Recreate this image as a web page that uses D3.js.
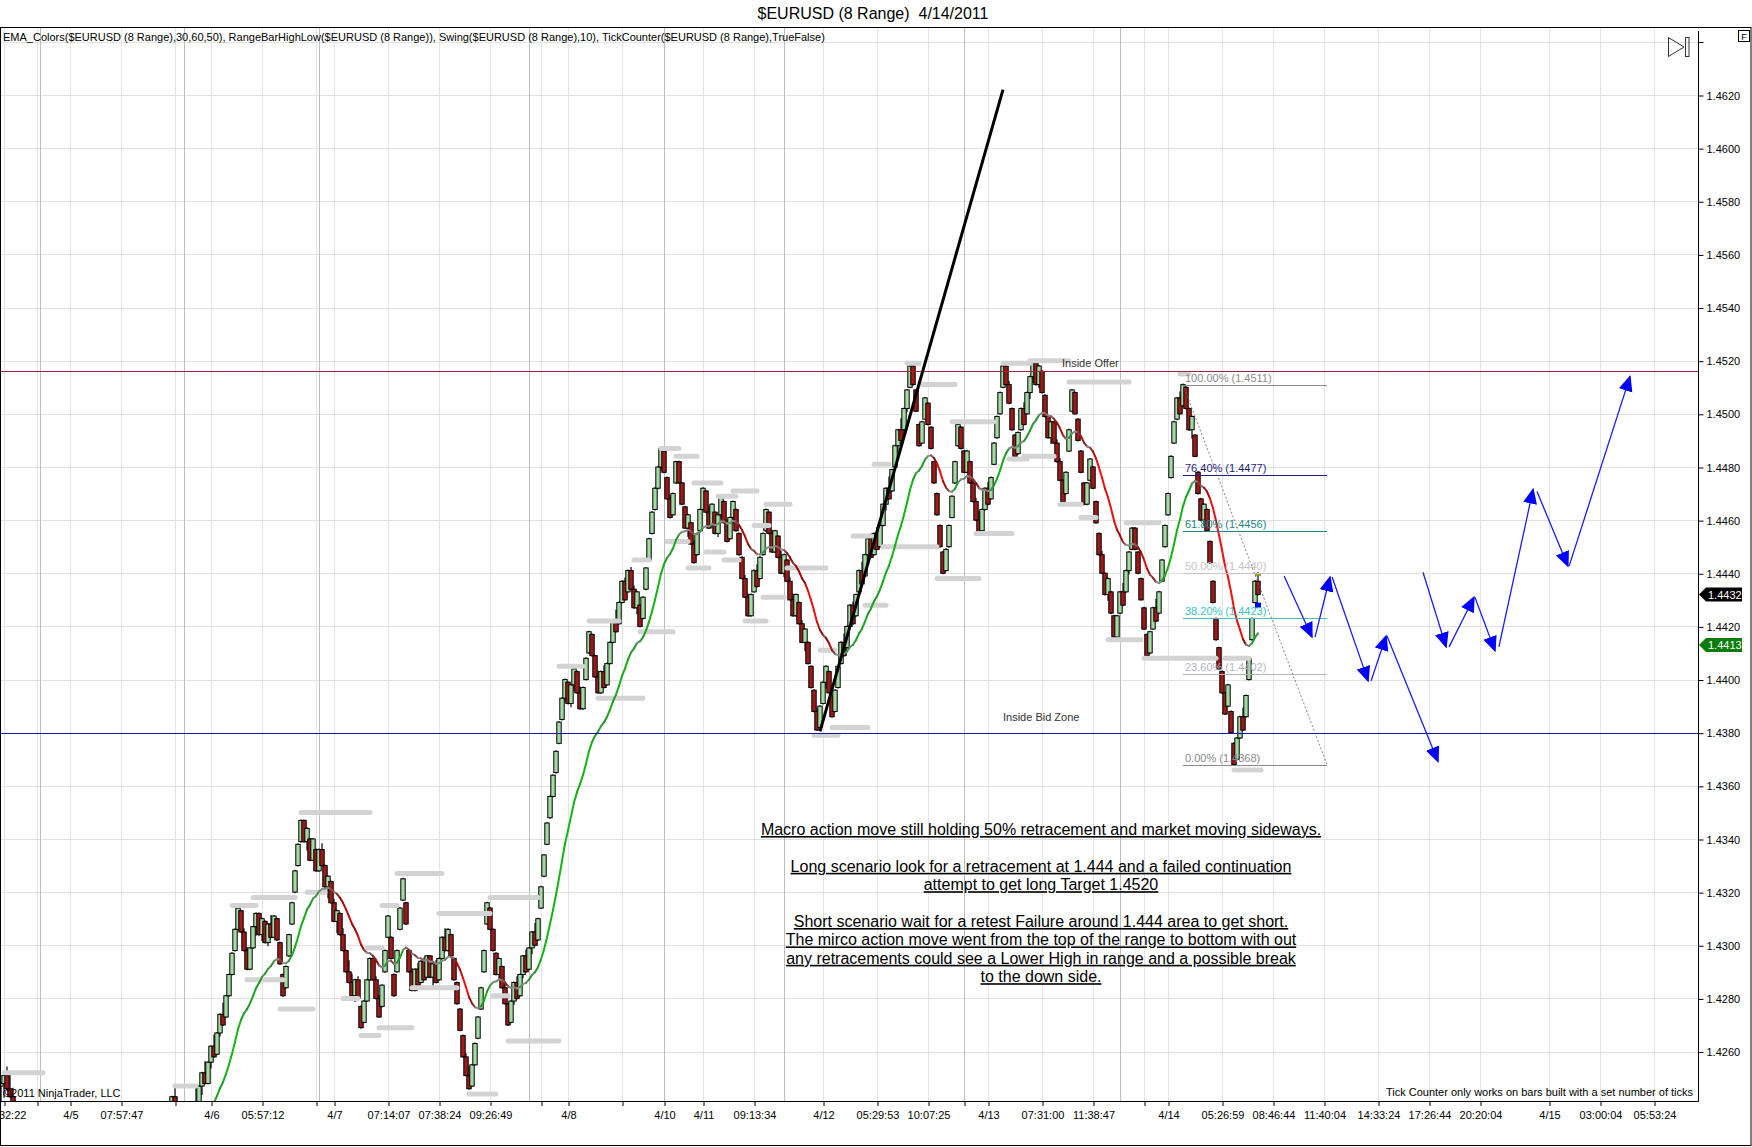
<!DOCTYPE html>
<html>
<head>
<meta charset="utf-8">
<script src="https://cdn.jsdelivr.net/npm/d3@7"></script>
<style>
  body { margin: 0; background: #fff; }
  svg text { font-family: "Liberation Sans", Arial, sans-serif; }
</style>
</head>
<body>
<svg id="chart" width="1752" height="1147"></svg>
<script>
// range bar closes, in pips above 1.4000 (one per bar)
const BASE = 1.4, PIP = 0.0001, RANGE = 8;
const closePips = [
  248, 251, 246, 243, 238,
  232, 228, 224, 220, 216, 219, 214, 210, 212, 208,
  205, 209, 212, 208, 204, 207, 211, 214, 210, 206,
  203, 207, 211, 215, 212, 208, 211, 215, 218, 214,
  210, 213, 217, 214, 210, 206, 209, 213, 216, 220,
  217, 213, 216, 220, 224, 221, 225, 228, 224, 227,
  230, 236, 243,
  238, 231, 227, 232, 228, 234, 241, 238, 247,
  252, 248, 256, 262, 258, 267, 274, 270, 281, 289, 297, 306, 314,
  305, 298, 291, 299, 307,
  312, 304, 310, 301, 308, 303, 311, 302,
  293, 281,
  292, 304, 316, 328, 338, 347,
  339, 344, 332, 340, 328, 336, 330,
  322, 326, 316, 309, 313, 304, 298,
  290, 286, 281, 287, 280,
  269,
  279, 287, 295, 287, 280, 273,
  285, 298, 311, 295, 281, 298, 314, 325, 308, 290, 283,
  291, 285, 294, 287, 296, 288, 293, 286,
  295, 303, 298, 306,
  296, 287, 278, 268,
  258, 251, 246,
  255, 263, 273,
  284, 298, 316,
  306, 298, 289, 295, 284, 278, 270,
  279, 286, 280, 289, 296, 290, 299, 305, 300,
  310, 322, 334, 346, 356, 364, 373, 384,
  393, 400, 391, 398, 404, 395, 389, 397,
  408, 418,
  409, 401, 395, 403, 397, 406,
  414, 422, 418, 429,
  437, 430, 441, 434,
  427, 433, 420,
  431, 442, 453, 463,
  472, 480, 487,
  478, 468, 461, 470,
  482,
  474, 466, 457, 462, 451, 444,
  455, 464, 472,
  463, 457, 466, 455, 462, 469, 459, 452, 461, 467, 456,
  447, 438, 431, 424,
  432, 441, 435, 446, 455,
  464,
  455, 448, 456, 446, 440, 447, 437,
  430, 424, 432, 421, 414, 419, 406,
  397, 388, 381,
  390, 399, 405, 395, 386, 396,
  405, 414, 409, 420, 428,
  421, 432, 441, 436, 447, 453,
  446, 455, 449, 458,
  466, 472, 468, 479,
  488, 494, 490, 502,
  509, 518, 511,
  501, 488, 497, 506, 496, 487, 474, 462, 450, 440,
  449, 458, 469, 482, 496, 487,
  478, 486, 474,
  467, 460, 455,
  464, 472, 466, 476, 489,
  499, 508, 518, 511, 504,
  494, 484, 493, 502, 496, 508,
  514, 520, 511, 518,
  508, 499, 491,
  497, 489,
  482, 475, 467,
  478, 494, 509,
  500, 490,
  478, 466, 474, 483, 472,
  459, 447,
  440, 432, 438, 425, 416,
  424, 433, 428, 441,
  448, 457,
  449, 440, 430, 419, 409,
  418, 427, 422, 433, 445,
  458, 470, 484, 497,
  506, 500, 511,
  502, 494, 499,
  484, 470,
  460, 466, 456,
  444, 429, 415,
  404, 395, 387, 398, 380, 368,
  378, 386, 381, 394, 408, 423,
  437, 432
];

// time axis: bar slot of each tick and its label
const tickSlots = [1, 12, 23, 40, 58, 70, 87, 105, 111, 129, 146, 163, 180, 189, 207, 221, 234, 251,
  274, 292, 309, 321, 329, 347, 364, 381, 389, 407, 424, 441, 459, 476, 493, 516, 533, 551];
const tickLabels = ["07:32:22", "", "4/5", "07:57:47", "", "4/6", "05:57:12", "", "4/7", "07:14:07",
  "07:38:24", "09:26:49", "", "4/8", "", "4/10", "4/11", "09:13:34", "4/12", "05:29:53", "10:07:25", "",
  "4/13", "07:31:00", "11:38:47", "", "4/14", "05:26:59", "08:46:44", "11:40:04", "14:33:24", "17:26:44",
  "20:20:04", "4/15", "03:00:04", "05:53:24"];
const sessionSlots = [13, 61, 106, 176, 221, 261, 321, 373];

const priceTicks = [1.4260, 1.4280, 1.4300, 1.4320, 1.4340, 1.4360, 1.4380, 1.4400, 1.4420, 1.4440,
  1.4460, 1.4480, 1.4500, 1.4520, 1.4540, 1.4560, 1.4580, 1.4600, 1.4620];

// swing lines: first bar, last bar, level in pips
const swingFrom = [1, 58, 77, 84, 82, 93, 100, 102, 114, 120, 122, 126, 127, 132, 137, 146, 156, 163, 164, 169,
  186, 196, 199, 211, 213, 220, 222, 225, 229, 231, 235, 239, 241, 244, 248, 251, 254, 255, 262, 271, 273, 277,
  284, 288, 291, 294, 302, 307, 312, 317, 325, 334, 336, 341, 343, 353, 356, 360, 369, 375, 381, 408, 393, 411];
const swingTo = [14, 65, 85, 98, 94, 104, 123, 108, 119, 126, 127, 137, 132, 147, 152, 163, 165, 179, 169, 186,
  194, 206, 214, 216, 224, 226, 229, 232, 236, 240, 241, 245, 246, 252, 255, 256, 261, 263, 275, 279, 278, 289,
  290, 295, 296, 312, 306, 318, 326, 331, 337, 343, 342, 351, 356, 360, 376, 365, 380, 386, 405, 416, 396, 420];
const swingPips = [252, 247, 315, 318, 287, 276, 350, 320, 280, 266, 299, 269, 315, 327, 284, 312, 244, 318, 281, 264,
  405, 422, 393, 445, 418, 487, 452, 484, 442, 474, 448, 469, 445, 471, 422, 458, 431, 466, 442, 379, 411, 382,
  454, 428, 481, 450, 519, 511, 438, 497, 455, 519, 483, 484, 520, 466, 512, 461, 415, 459, 408, 408, 515, 366];

// fibonacci retracement drawn from the 4/14 high to the low
const fibNames = ["100.00%", "76.40%", "61.80%", "50.00%", "38.20%", "23.60%", "0.00%"];
const fibPrices = [1.4511, 1.4477, 1.4456, 1.4440, 1.4423, 1.4402, 1.4368];
const fibSlots = [394, 442];

// hand drawn lines
const offerPrice = 1.4516, bidPrice = 1.4380;
const trendSlots = [273, 334], trendPrices = [1.43805, 1.46220];
const arrowSlotA = [427.7, 438, 443.7, 456.7, 462, 474, 482.7, 491.3, 499.3, 512, 522.7];
const arrowPipA = [439, 416, 438.6, 399.5, 416.4, 440.4, 412.3, 431, 412.3, 470.8, 442.7];
const arrowSlotB = [437, 443, 455.7, 461.7, 479, 481.7, 491, 498, 510.7, 522.3, 543];
const arrowPipB = [416, 438.6, 399.5, 416.4, 369.2, 412.3, 431, 410.8, 471.6, 442.7, 514];

const lastPrice = 1.4432, emaPrice = 1.4413;
const barMarkPips = [439.5, 428];
const emaPeriod = 20, emaSeed = 222;

const noteLines = [
  "Macro action move still holding 50% retracement and market moving sideways.",
  "",
  "Long scenario look for a retracement at 1.444 and a failed continuation",
  "attempt to get long Target 1.4520",
  "",
  "Short scenario wait for a retest Failure around 1.444 area to get short.",
  "The mirco action move went from the top of the range to bottom with out",
  "any retracements could see a Lower High in range and a possible break",
  "to the down side."
];

/* LAYOUT */
const plot = { left: 0, right: 1698, top: 27, bottom: 1101 };
const svg = d3.select("#chart");

const x = d3.scaleLinear().domain([0, 565]).range([1, 1696]);
const y = d3.scaleLinear().domain([1.4380, 1.4520]).range([732.7, 360.7]);
const px = p => BASE + p * PIP;
const crisp = v => Math.round(v) + 0.5;

const defs = svg.append("defs");
defs.append("clipPath").attr("id", "plotClip")
  .append("rect")
  .attr("x", plot.left).attr("y", plot.top)
  .attr("width", plot.right - plot.left).attr("height", plot.bottom - plot.top);

defs.append("marker")
  .attr("id", "arrowHead")
  .attr("viewBox", "0 0 10 10")
  .attr("refX", 9).attr("refY", 5)
  .attr("markerUnits", "userSpaceOnUse")
  .attr("markerWidth", 16).attr("markerHeight", 16)
  .attr("orient", "auto")
  .append("path")
  .attr("d", "M0,0.6 L10,5 L0,9.4 Z")
  .attr("fill", "#0000ff");

// title
svg.append("text")
  .attr("x", 873).attr("y", 19)
  .attr("text-anchor", "middle")
  .attr("font-size", 16)
  .style("white-space", "pre")
  .text("$EURUSD (8 Range)  4/14/2011");

/* GRID */
const plotG = svg.append("g").attr("clip-path", "url(#plotClip)");

plotG.selectAll(".hgrid")
  .data(priceTicks.concat([1.4640]))
  .join("line")
  .attr("x1", plot.left).attr("x2", plot.right)
  .attr("y1", d => crisp(y(d))).attr("y2", d => crisp(y(d)))
  .attr("stroke", "#e2e2e2");

plotG.selectAll(".vgrid")
  .data(tickSlots)
  .join("line")
  .attr("x1", d => crisp(x(d))).attr("x2", d => crisp(x(d)))
  .attr("y1", plot.top).attr("y2", plot.bottom)
  .attr("stroke", "#e4e4e4");

plotG.selectAll(".sgrid")
  .data(sessionSlots)
  .join("line")
  .attr("x1", d => crisp(x(d))).attr("x2", d => crisp(x(d)))
  .attr("y1", plot.top).attr("y2", plot.bottom)
  .attr("stroke", "#bdbdbd");

svg.append("text")
  .attr("x", 3).attr("y", 41)
  .attr("font-size", 11)
  .text("EMA_Colors($EURUSD (8 Range),30,60,50), RangeBarHighLow($EURUSD (8 Range)), Swing($EURUSD (8 Range),10), TickCounter($EURUSD (8 Range),TrueFalse)");

/* BARS */
const bars = closePips.map((c, i) => {
  const prev = i ? closePips[i - 1] : c - 1;
  const up = c >= prev;
  const h = up ? c : c + RANGE;
  const l = up ? c - RANGE : c;
  const o = Math.max(l, Math.min(h, prev));
  return { i, o, h, l, c, up };
});

plotG.selectAll(".wick")
  .data(bars)
  .join("line")
  .attr("x1", d => x(d.i)).attr("x2", d => x(d.i))
  .attr("y1", d => y(px(d.h)) - 1).attr("y2", d => y(px(d.l)) + 1)
  .attr("stroke", "#000").attr("stroke-width", 1.2);

plotG.selectAll(".body")
  .data(bars)
  .join("rect")
  .attr("x", d => x(d.i) - 2.2)
  .attr("width", 4.4)
  .attr("y", d => y(px(Math.max(d.o, d.c))))
  .attr("height", d => Math.max(1, Math.abs(y(px(d.o)) - y(px(d.c)))))
  .attr("fill", d => d.up ? "#a3dba3" : "#9e1a1a")
  .attr("stroke", "#000").attr("stroke-width", 1);

// swing high / low levels
plotG.selectAll(".swing")
  .data(swingPips)
  .join("line")
  .attr("x1", (d, i) => x(swingFrom[i])).attr("x2", (d, i) => x(swingTo[i]))
  .attr("y1", d => y(px(d))).attr("y2", d => y(px(d)))
  .attr("stroke", "#d3d3d3").attr("stroke-width", 5)
  .attr("stroke-linecap", "round");

// current bar high/low projection marks
const last = bars[bars.length - 1];
plotG.append("rect")
  .attr("x", x(last.i) - 3).attr("y", y(px(barMarkPips[0])) - 1.5)
  .attr("width", 6).attr("height", 3).attr("fill", "#9c9a32");
plotG.append("rect")
  .attr("x", x(last.i) - 3).attr("y", y(px(barMarkPips[1])) - 2.5)
  .attr("width", 6).attr("height", 5).attr("fill", "#0000ff");

/* EMA, coloured by slope */
const ema = [];
let e = emaSeed;
closePips.forEach(c => { e = e + (c - e) * 2 / (emaPeriod + 1); ema.push(e); });

const slopeColor = d3.scaleLinear()
  .domain([-3.6, -1.9, -0.25, 0.25, 1.9, 3.6])
  .range(["#ee1010", "#870a0a", "#8e8e8e", "#8e8e8e", "#23962a", "#14b414"])
  .clamp(true);

plotG.selectAll(".ema")
  .data(ema.slice(1))
  .join("line")
  .attr("x1", (d, i) => x(i)).attr("x2", (d, i) => x(i + 1))
  .attr("y1", (d, i) => y(px(ema[i]))).attr("y2", d => y(px(d)))
  .attr("stroke", (d, i) => slopeColor(d - ema[i]))
  .attr("stroke-width", 2)
  .attr("stroke-linecap", "round");

/* HORIZONTAL ZONES */
plotG.append("line")
  .attr("x1", plot.left).attr("x2", plot.right)
  .attr("y1", crisp(y(offerPrice))).attr("y2", crisp(y(offerPrice)))
  .attr("stroke", "#a3213f");
plotG.append("line")
  .attr("x1", plot.left).attr("x2", plot.right)
  .attr("y1", crisp(y(bidPrice))).attr("y2", crisp(y(bidPrice)))
  .attr("stroke", "#1414a8");

plotG.append("text")
  .attr("x", 1062).attr("y", 367)
  .attr("font-size", 11).attr("fill", "#333")
  .text("Inside Offer");
plotG.append("text")
  .attr("x", 1003).attr("y", 721)
  .attr("font-size", 11).attr("fill", "#333")
  .text("Inside Bid Zone");

/* FIBONACCI */
const fibColors = ["#8a8a8a", "#1c1c7a", "#1d8585", "#c4c4c4", "#3cc4c4", "#b4b4c0", "#8a8a8a"];
const fibG = plotG.append("g");
fibG.selectAll("line")
  .data(fibPrices)
  .join("line")
  .attr("x1", x(fibSlots[0])).attr("x2", x(fibSlots[1]))
  .attr("y1", d => crisp(y(d))).attr("y2", d => crisp(y(d)))
  .attr("stroke", (d, i) => fibColors[i]);
fibG.selectAll("text")
  .data(fibPrices)
  .join("text")
  .attr("x", x(fibSlots[0]) + 2)
  .attr("y", d => y(d) - 3)
  .attr("font-size", 11)
  .attr("fill", (d, i) => fibColors[i])
  .text((d, i) => `${fibNames[i]} (${d.toFixed(4)})`);
fibG.append("line")
  .attr("x1", x(fibSlots[0])).attr("y1", y(fibPrices[0]))
  .attr("x2", x(fibSlots[1])).attr("y2", y(fibPrices[fibPrices.length - 1]))
  .attr("stroke", "#666").attr("stroke-width", 0.8)
  .attr("stroke-dasharray", "2,2");

/* DRAWINGS */
plotG.append("line")
  .attr("x1", x(trendSlots[0])).attr("y1", y(trendPrices[0]))
  .attr("x2", x(trendSlots[1])).attr("y2", y(trendPrices[1]))
  .attr("stroke", "#000").attr("stroke-width", 3);

plotG.selectAll(".arrow")
  .data(arrowSlotA)
  .join("line")
  .attr("x1", d => x(d)).attr("y1", (d, i) => y(px(arrowPipA[i])))
  .attr("x2", (d, i) => x(arrowSlotB[i])).attr("y2", (d, i) => y(px(arrowPipB[i])))
  .attr("stroke", "#1c1cf0").attr("stroke-width", 1.3)
  .attr("marker-end", "url(#arrowHead)");

// annotation
svg.append("g").selectAll("text")
  .data(noteLines)
  .join("text")
  .attr("x", 1041)
  .attr("y", (d, i) => 835 + i * 18.4)
  .attr("text-anchor", "middle")
  .attr("font-size", 16)
  .style("text-decoration", "underline")
  .text(d => d);

plotG.append("text")
  .attr("x", 3).attr("y", 1097)
  .attr("font-size", 11)
  .text("©2011 NinjaTrader, LLC");
plotG.append("text")
  .attr("x", 1693).attr("y", 1096)
  .attr("text-anchor", "end")
  .attr("font-size", 11)
  .text("Tick Counter only works on bars built with a set number of ticks");

/* AXES */
const xAxis = d3.axisBottom(x)
  .tickValues(tickSlots)
  .tickFormat((d, i) => tickLabels[i])
  .tickSize(5).tickSizeOuter(0);

const xg = svg.append("g")
  .attr("transform", `translate(0.5,${plot.bottom})`)
  .call(xAxis);
xg.select(".domain").remove();
xg.selectAll("text").attr("font-size", 11).attr("font-family", "Liberation Sans, Arial").attr("fill", "#000").attr("dy", "0.9em");
xg.selectAll("line").attr("stroke", "#000");

const yAxis = d3.axisRight(y)
  .tickValues(priceTicks)
  .tickFormat(d3.format(".4f"))
  .tickSize(5).tickSizeOuter(0);

const yg = svg.append("g")
  .attr("transform", `translate(${plot.right + 0.5},0.5)`)
  .call(yAxis);
yg.select(".domain").remove();
yg.selectAll("text").attr("font-size", 11).attr("font-family", "Liberation Sans, Arial").attr("fill", "#000");
yg.selectAll("line").attr("stroke", "#000");
yg.append("line")
  .attr("x1", 0).attr("x2", 5)
  .attr("y1", Math.round(y(1.4640))).attr("y2", Math.round(y(1.4640)))
  .attr("stroke", "#000");

svg.append("line")
  .attr("x1", plot.left).attr("x2", plot.right + 0.5)
  .attr("y1", plot.bottom + 0.5).attr("y2", plot.bottom + 0.5)
  .attr("stroke", "#000");
svg.append("line")
  .attr("x1", plot.right + 0.5).attr("x2", plot.right + 0.5)
  .attr("y1", 31).attr("y2", plot.bottom + 0.5)
  .attr("stroke", "#000");

// price markers on the axis
const markers = [{ v: lastPrice, fill: "#000" }, { v: emaPrice, fill: "#0a7d0a" }];
const mk = svg.selectAll(".mk").data(markers).join("g")
  .attr("transform", d => `translate(0,${y(d.v)})`);
mk.append("path")
  .attr("d", "M1699,0 L1706,-7 L1742,-7 L1742,7 L1706,7 Z")
  .attr("fill", d => d.fill);
mk.append("text")
  .attr("x", 1708).attr("y", 4)
  .attr("font-size", 11).attr("fill", "#fff")
  .text(d => d.v.toFixed(4));

// scroll-to-end icon and F box
svg.append("path")
  .attr("d", "M1668.5,37.5 L1684,47 L1668.5,56.5 Z")
  .attr("fill", "none").attr("stroke", "#333");
svg.append("rect")
  .attr("x", 1685.5).attr("y", 37.5).attr("width", 3.5).attr("height", 19)
  .attr("fill", "none").attr("stroke", "#333");
svg.append("rect")
  .attr("x", 1738.5).attr("y", 30.5).attr("width", 11).attr("height", 11)
  .attr("fill", "#fff").attr("stroke", "#000");
svg.append("text")
  .attr("x", 1744).attr("y", 39.5)
  .attr("text-anchor", "middle").attr("font-size", 9)
  .text("F");

// outer frame
svg.append("rect")
  .attr("x", 0.5).attr("y", 27.5).attr("width", 1750.5).attr("height", 1118)
  .attr("fill", "none").attr("stroke", "#000");
</script>
</body>
</html>
